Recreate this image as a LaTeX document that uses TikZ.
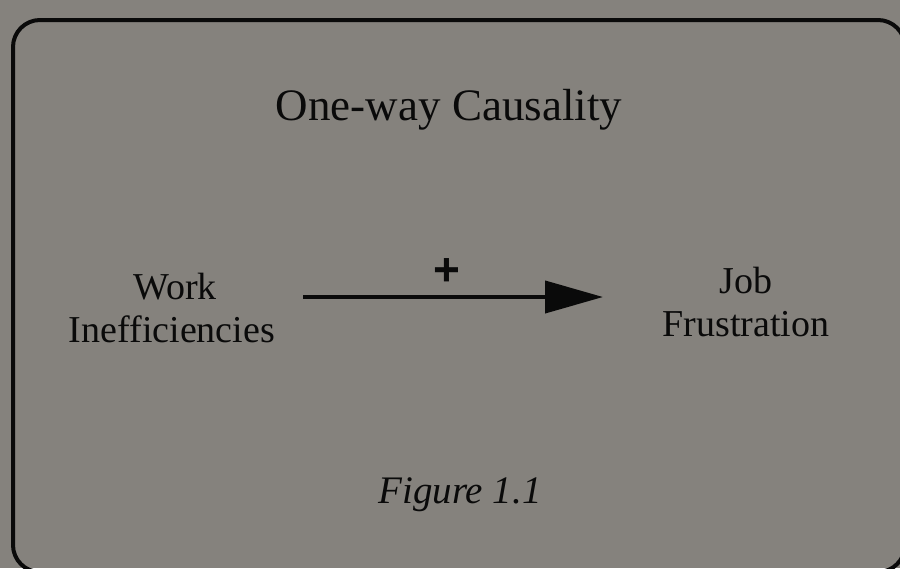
\documentclass[tikz,border=0pt]{standalone}
\usepackage{fontspec}
\usetikzlibrary{arrows.meta}
\newfontfamily\tnr{Liberation Serif}
\newfontfamily\plusfont{Liberation Sans}
\definecolor{bggray}{RGB}{133,130,125}
\definecolor{ink}{RGB}{10,10,10}
\tikzset{
  lbl/.style={anchor=base, inner sep=0pt, text=ink, font=\tnr\fontsize{38}{44}\selectfont},
  ttl/.style={anchor=base, inner sep=0pt, text=ink, font=\tnr\fontsize{45}{52}\selectfont},
  fig/.style={anchor=base, inner sep=0pt, text=ink, font=\tnr\itshape\fontsize{39}{44}\selectfont},
  plus/.style={anchor=center, inner sep=0pt, text=ink, font=\plusfont\bfseries\fontsize{46}{50}\selectfont},
  frame/.style={draw=ink, line width=4pt, rounded corners=27pt},
  causal/.style={draw=ink, line width=4pt, -{Triangle[length=58pt,width=32pt]}}
}
\begin{document}
\begin{tikzpicture}[x=1pt,y=-1pt]
\useasboundingbox (0,0) rectangle (900,568);
\fill[bggray] (0,0) rectangle (900,568);
\clip (0,0) rectangle (900,568);
\draw[frame] (13,20) rectangle (905,572);
\node[ttl] (title) at (449,120) {One-way Causality};
\node[lbl] (work1) at (175,299) {Work};
\node[lbl] (work2) at (172,342) {Inefficiencies};
\node[lbl] (job1) at (746,293) {Job};
\node[lbl] (job2) at (746,336) {Frustration};
\coordinate (a1) at (303,297);
\coordinate (a2) at (603,297);
\draw[causal] (a1) -- (a2);
\node[plus] (sign) at (447,272) {+};
\node[fig] (figlabel) at (460,503) {Figure 1.1};
\end{tikzpicture}
\end{document}
